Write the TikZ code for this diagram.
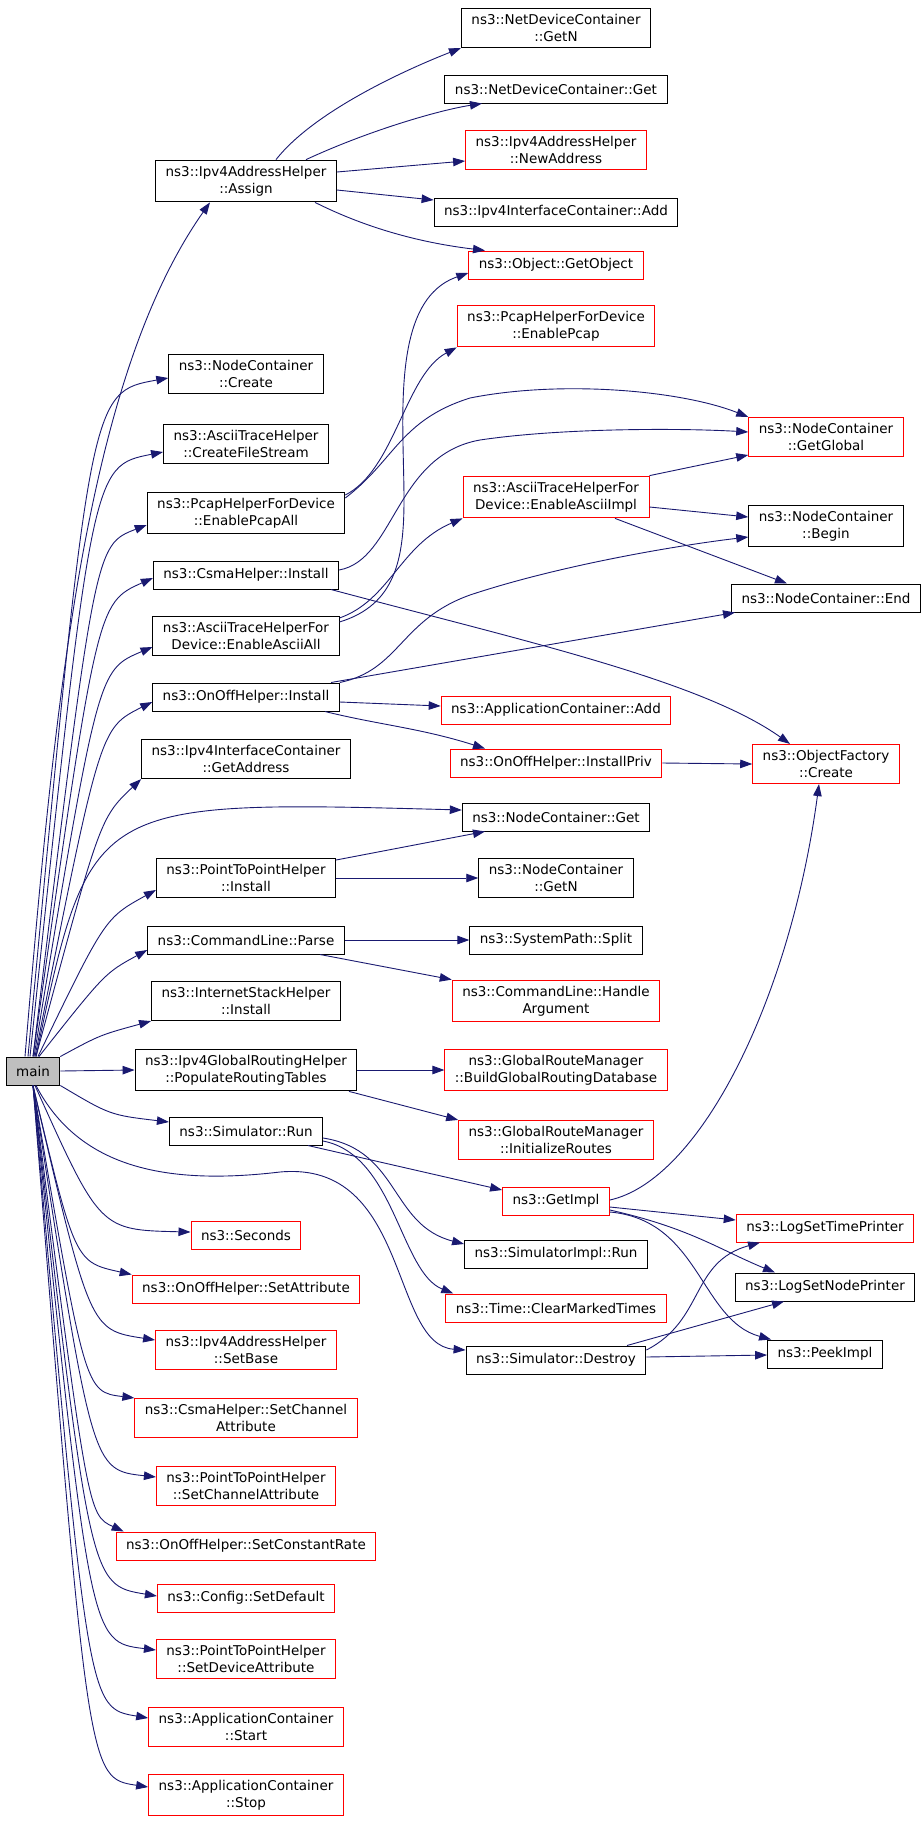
\documentclass[tikz,border=0pt]{standalone}
\usepackage{fontspec}
\setmainfont{DejaVu Sans}
\usetikzlibrary{arrows.meta}
\definecolor{callblue}{HTML}{191970}

\begin{document}
\begin{tikzpicture}[
    x=1pt, y=1pt,
    every node/.style={align=center, font=\fontsize{13.5}{16.7}\selectfont},
    funcbox/.style={draw, rectangle, fill=white, line width=1pt, inner xsep=10pt, inner ysep=6pt, minimum height=28pt},
    redbox/.style={funcbox, draw=red},
    mainbox/.style={funcbox, fill=black!25},
    callline/.style={-{Triangle[length=12pt, width=8.5pt]}, draw=callblue, line width=0.9pt},
]
\useasboundingbox (0,0) rectangle (923,-1832);
% caller
\node[mainbox] (main) at (33,-1071) {main};
% functions called by main
\node[funcbox] (assign) at (246,-181) {ns3::Ipv4AddressHelper\\::Assign};
\node[funcbox] (create) at (246,-374) {ns3::NodeContainer\\::Create};
\node[funcbox] (filestream) at (246,-444) {ns3::AsciiTraceHelper\\::CreateFileStream};
\node[funcbox] (pcapall) at (246,-513) {ns3::PcapHelperForDevice\\::EnablePcapAll};
\node[funcbox] (csmainst) at (246,-575) {ns3::CsmaHelper::Install};
\node[funcbox] (asciiall) at (246,-636) {ns3::AsciiTraceHelperFor\\Device::EnableAsciiAll};
\node[funcbox] (onoffinst) at (246,-697) {ns3::OnOffHelper::Install};
\node[funcbox] (getaddr) at (246,-759) {ns3::Ipv4InterfaceContainer\\::GetAddress};
\node[funcbox] (p2pinst) at (246,-878) {ns3::PointToPointHelper\\::Install};
\node[funcbox] (parse) at (246,-940) {ns3::CommandLine::Parse};
\node[funcbox] (inetinst) at (246,-1001) {ns3::InternetStackHelper\\::Install};
\node[funcbox] (populate) at (246,-1070) {ns3::Ipv4GlobalRoutingHelper\\::PopulateRoutingTables};
\node[funcbox] (simrun) at (246,-1131) {ns3::Simulator::Run};
\node[redbox] (seconds) at (246,-1235) {ns3::Seconds};
\node[redbox] (setattr) at (246,-1289) {ns3::OnOffHelper::SetAttribute};
\node[redbox] (setbase) at (246,-1350) {ns3::Ipv4AddressHelper\\::SetBase};
\node[redbox] (csmachan) at (246,-1418) {ns3::CsmaHelper::SetChannel\\Attribute};
\node[redbox] (p2pchan) at (246,-1486) {ns3::PointToPointHelper\\::SetChannelAttribute};
\node[redbox] (constrate) at (246,-1546) {ns3::OnOffHelper::SetConstantRate};
\node[redbox] (setdefault) at (246,-1598) {ns3::Config::SetDefault};
\node[redbox] (p2pdev) at (246,-1659) {ns3::PointToPointHelper\\::SetDeviceAttribute};
\node[redbox] (appstart) at (246,-1727) {ns3::ApplicationContainer\\::Start};
\node[redbox] (appstop) at (246,-1795) {ns3::ApplicationContainer\\::Stop};
% second level
\node[funcbox] (ndgetn) at (556,-28) {ns3::NetDeviceContainer\\::GetN};
\node[funcbox] (ndget) at (556,-89) {ns3::NetDeviceContainer::Get};
\node[redbox] (newaddr) at (556,-150) {ns3::Ipv4AddressHelper\\::NewAddress};
\node[funcbox] (ifadd) at (556,-212) {ns3::Ipv4InterfaceContainer::Add};
\node[redbox] (getobj) at (556,-265) {ns3::Object::GetObject};
\node[redbox] (enpcap) at (556,-326) {ns3::PcapHelperForDevice\\::EnablePcap};
\node[redbox] (asciiimpl) at (556,-497) {ns3::AsciiTraceHelperFor\\Device::EnableAsciiImpl};
\node[redbox] (appadd) at (556,-710) {ns3::ApplicationContainer::Add};
\node[redbox] (installpriv) at (556,-763) {ns3::OnOffHelper::InstallPriv};
\node[funcbox] (ncget) at (556,-817) {ns3::NodeContainer::Get};
\node[funcbox] (ncgetn) at (556,-878) {ns3::NodeContainer\\::GetN};
\node[funcbox] (split) at (556,-940) {ns3::SystemPath::Split};
\node[redbox] (handlearg) at (556,-1001) {ns3::CommandLine::Handle\\Argument};
\node[redbox] (buildgrd) at (556,-1070) {ns3::GlobalRouteManager\\::BuildGlobalRoutingDatabase};
\node[redbox] (initroutes) at (556,-1140) {ns3::GlobalRouteManager\\::InitializeRoutes};
\node[redbox] (getimpl) at (556,-1201) {ns3::GetImpl};
\node[funcbox] (simimplrun) at (556,-1254) {ns3::SimulatorImpl::Run};
\node[redbox] (clearmarked) at (556,-1308) {ns3::Time::ClearMarkedTimes};
\node[funcbox] (destroy) at (556,-1360) {ns3::Simulator::Destroy};
% third level
\node[redbox] (getglobal) at (826,-437) {ns3::NodeContainer\\::GetGlobal};
\node[funcbox] (begin) at (826,-526) {ns3::NodeContainer\\::Begin};
\node[funcbox] (ncend) at (826,-598) {ns3::NodeContainer::End};
\node[redbox] (objcreate) at (826,-764) {ns3::ObjectFactory\\::Create};
\node[redbox] (logtime) at (825,-1228) {ns3::LogSetTimePrinter};
\node[funcbox] (lognode) at (825,-1287) {ns3::LogSetNodePrinter};
\node[funcbox] (peekimpl) at (825,-1354) {ns3::PeekImpl};

% calls from main, upwards
\draw[callline] ([xshift=-8pt]main.north) .. controls (55,-700) and (85,-380) .. ([xshift=-36pt]assign.south);
\draw[callline] ([xshift=-5pt]main.north) .. controls (90,-392) .. ([yshift=-4pt]create.west);
\draw[callline] ([xshift=-3pt]main.north) .. controls (92,-466) .. ([yshift=-8pt]filestream.west);
\draw[callline] (main.north) .. controls (95,-545) .. ([yshift=-12pt]pcapall.west);
\draw[callline] (main.north) .. controls (97,-603) .. ([yshift=-3pt]csmainst.west);
\draw[callline] ([xshift=1pt]main.north) .. controls (98,-670) .. ([yshift=-11pt]asciiall.west);
\draw[callline] ([xshift=2pt]main.north) .. controls (100,-728) .. ([yshift=-5pt]onoffinst.west);
\draw[callline] ([xshift=3pt]main.north) .. controls (100,-818) .. (getaddr.south west);
\draw[callline] ([xshift=3pt]main.north) .. controls (90,-800) .. ([yshift=7pt]ncget.west);
\draw[callline] ([xshift=5pt]main.north) .. controls (105,-918) .. ([yshift=-12pt]p2pinst.west);
\draw[callline] ([xshift=6pt]main.north) .. controls (105,-973) .. ([yshift=-10pt]parse.west);
\draw[callline] (main.north east) .. controls (100,-1035) .. (inetinst.south west);
\draw[callline] (main.east) -- (populate.west);
% calls from main, downwards
\draw[callline] (main.south east) .. controls (110,-1115) .. ([yshift=9pt]simrun.west);
\draw[callline] ([xshift=3pt]main.south) .. controls (80,-1170) and (170,-1185) .. (280,-1172)
    .. controls (410,-1160) and (390,-1345) .. ([yshift=10pt]destroy.west);
\draw[callline] ([xshift=2pt]main.south) .. controls (100,-1230) .. ([yshift=3pt]seconds.west);
\draw[callline] (main.south) .. controls (75,-1262) .. (setattr.north west);
\draw[callline] (main.south) .. controls (90,-1330) .. ([yshift=10pt]setbase.west);
\draw[callline] (main.south) .. controls (85,-1392) .. (csmachan.north west);
\draw[callline] (main.south) .. controls (92,-1470) .. ([yshift=9pt]p2pchan.west);
\draw[callline] (main.south) .. controls (88,-1515) .. ([xshift=8pt]constrate.north west);
\draw[callline] (main.south) .. controls (90,-1585) .. ([yshift=2pt]setdefault.west);
\draw[callline] (main.south) .. controls (90,-1642) .. ([yshift=9pt]p2pdev.west);
\draw[callline] (main.south) .. controls (88,-1708) .. ([yshift=9pt]appstart.west);
\draw[callline] (main.south) .. controls (88,-1778) .. ([yshift=8pt]appstop.west);

% Assign
\draw[callline] ([xshift=30pt]assign.north) .. controls (315,-110) and (410,-68) .. (ndgetn.south west);
\draw[callline] ([xshift=60pt]assign.north) .. controls (370,-130) and (440,-110) .. ([xshift=-74pt]ndget.south);
\draw[callline] ([yshift=9pt]assign.east) -- ([yshift=-11pt]newaddr.west);
\draw[callline] ([yshift=-9pt]assign.east) -- ([yshift=12pt]ifadd.west);
\draw[callline] ([xshift=69pt]assign.south) .. controls (380,-235) and (440,-245) .. ([xshift=-71pt]getobj.north);
% tracing helpers
\draw[callline] ([yshift=18pt]pcapall.east) .. controls (395,-470) and (405,-375) .. (enpcap.south west);
\draw[callline] ([yshift=15pt]pcapall.east) .. controls (395,-460) and (400,-420) .. (470,-398)
    .. controls (560,-380) and (680,-390) .. (getglobal.north west);
\draw[callline] ([yshift=14pt]asciiall.east) .. controls (395,-605) and (404,-560) .. (404,-500)
    .. controls (404,-420) and (390,-300) .. ([yshift=-8pt]getobj.west);
\draw[callline] ([yshift=18pt]asciiall.east) .. controls (390,-600) and (400,-545) .. (asciiimpl.south west);
\draw[callline] (asciiimpl.north east) -- ([yshift=-18pt]getglobal.west);
\draw[callline] ([yshift=-10pt]asciiimpl.east) -- ([yshift=9pt]begin.west);
\draw[callline] ([xshift=59pt]asciiimpl.south) -- ([xshift=-39pt]ncend.north);
% Csma and OnOff
\draw[callline] ([yshift=5pt]csmainst.east) .. controls (395,-560) and (395,-455) .. (480,-440)
    .. controls (560,-428) and (680,-428) .. ([yshift=5pt]getglobal.west);
\draw[callline] ([xshift=85pt]csmainst.south) .. controls (520,-640) and (700,-680) .. ([xshift=-36pt]objcreate.north);
\draw[callline] (onoffinst.north east) .. controls (400,-670) and (400,-620) .. (470,-595)
    .. controls (560,-565) and (680,-545) .. ([yshift=-11pt]begin.west);
\draw[callline] ([xshift=85pt]onoffinst.north) -- ([xshift=4pt]ncend.south west);
\draw[callline] ([yshift=-5pt]onoffinst.east) -- ([yshift=4pt]appadd.west);
\draw[callline] ([xshift=79pt]onoffinst.south) .. controls (380,-725) and (420,-728) .. ([xshift=-71pt]installpriv.north);
\draw[callline] (installpriv.east) -- (objcreate.west);
% PointToPoint, CommandLine, routing
\draw[callline] ([yshift=18pt]p2pinst.east) -- ([xshift=-71pt]ncget.south);
\draw[callline] (p2pinst.east) -- (ncgetn.west);
\draw[callline] (parse.east) -- (split.west);
\draw[callline] ([xshift=74pt]parse.south) -- (handlearg.north west);
\draw[callline] (populate.east) -- (buildgrd.west);
\draw[callline] ([xshift=103pt]populate.south) -- (initroutes.north west);
% Simulator
\draw[callline] ([xshift=62pt]simrun.south) -- ([yshift=11pt]getimpl.west);
\draw[callline] ([yshift=-7pt]simrun.east) .. controls (400,-1150) and (390,-1225) .. ([yshift=10pt]simimplrun.west);
\draw[callline] ([yshift=-10pt]simrun.east) .. controls (395,-1155) and (400,-1272) .. ([xshift=8pt]clearmarked.north west);
\draw[callline] ([yshift=1pt]getimpl.east) .. controls (700,-1180) and (790,-1000) .. ([xshift=-7pt]objcreate.south);
\draw[callline] ([yshift=-6pt]getimpl.east) -- ([yshift=8pt]logtime.west);
\draw[callline] ([yshift=-9pt]getimpl.east) .. controls (690,-1228) and (720,-1250) .. ([xshift=-50pt]lognode.north);
\draw[callline] ([yshift=-11pt]getimpl.east) .. controls (700,-1220) and (700,-1320) .. ([xshift=4pt]peekimpl.north west);
\draw[callline] ([yshift=10pt]destroy.east) .. controls (705,-1320) and (690,-1262) .. ([xshift=-65pt]logtime.south);
\draw[callline] ([xshift=71pt]destroy.north) -- ([xshift=-41pt]lognode.south);
\draw[callline] ([yshift=3pt]destroy.east) -- ([yshift=-1pt]peekimpl.west);
\end{tikzpicture}
\end{document}
